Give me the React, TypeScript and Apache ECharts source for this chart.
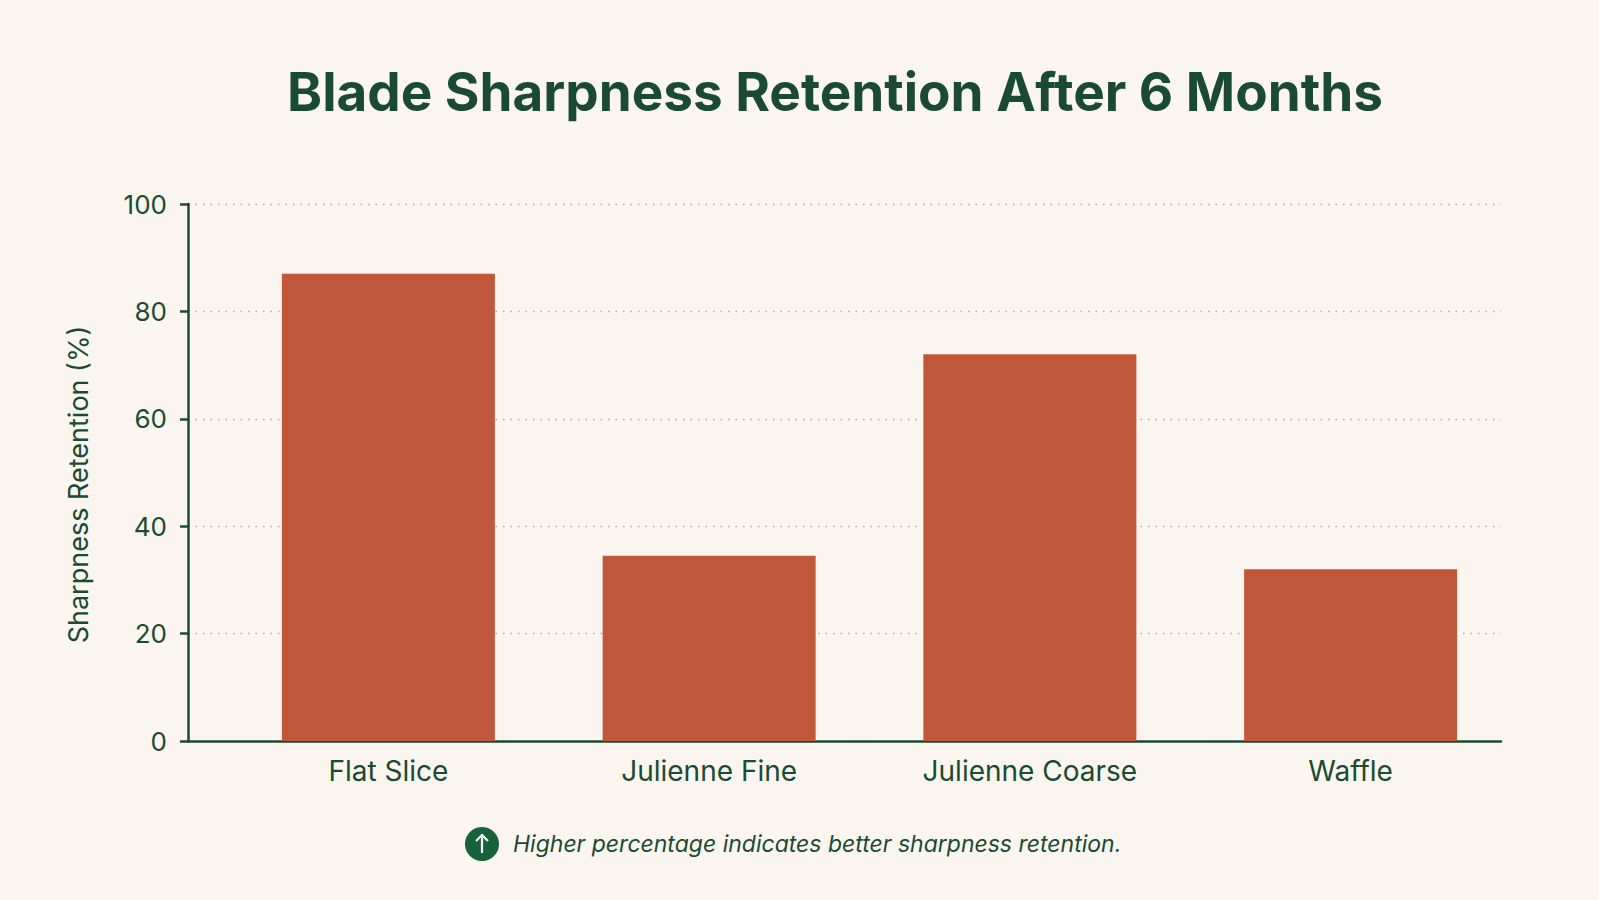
import { useEffect, useRef } from 'react'
import * as echarts from 'echarts'

const categories = ['Flat Slice', 'Julienne Fine', 'Julienne Coarse', 'Waffle']
const retention = [87, 34.5, 72, 32]
const yTicks = [0, 20, 40, 60, 80, 100]

const GREEN = '#1b4a32'
const BAR = '#c0573a'
const BG = '#faf6ef'
const FONT = 'Inter, "Noto Sans", sans-serif'

export default function App() {
  const ref = useRef<HTMLDivElement>(null)

  useEffect(() => {
    if (!ref.current) return
    const chart = echarts.init(ref.current, undefined, { renderer: 'svg' })

    chart.setOption({
      animation: false,
      backgroundColor: BG,
      textStyle: { fontFamily: FONT },
      grid: [
        // bars
        { left: 228, right: 88, top: 204, bottom: 159 },
        // axes frame
        { left: 188, right: 98, top: 204, bottom: 159 },
      ],
      xAxis: [
        {
          gridIndex: 0,
          type: 'category',
          data: categories,
          axisLine: { show: false },
          axisTick: { show: false },
          axisLabel: { color: GREEN, fontSize: 28, margin: 16, fontFamily: FONT },
        },
        {
          gridIndex: 1,
          type: 'value',
          min: 0,
          max: 1,
          axisLine: { show: true, lineStyle: { color: GREEN, width: 2.5 } },
          axisTick: { show: false },
          axisLabel: { show: false },
          splitLine: { show: false },
        },
      ],
      yAxis: [
        {
          gridIndex: 0,
          type: 'value',
          min: 0,
          max: 100,
          interval: 20,
          show: false,
          splitLine: { show: false },
        },
        {
          gridIndex: 1,
          type: 'value',
          min: yTicks[0],
          max: yTicks[yTicks.length - 1],
          interval: 20,
          name: 'Sharpness Retention (%)',
          nameLocation: 'middle',
          nameGap: 96,
          nameTextStyle: {
            color: GREEN,
            fontSize: 27,
            fontFamily: FONT,
            padding: [0, 24, 0, 0],
          },
          axisLine: { show: true, lineStyle: { color: GREEN, width: 2.5 } },
          axisTick: { show: true, length: 8, lineStyle: { color: GREEN, width: 2.5 } },
          axisLabel: { color: GREEN, fontSize: 26, margin: 21, fontFamily: FONT },
          splitLine: {
            show: true,
            lineStyle: { color: '#a9aaa2', width: 1.3, type: [1.5, 6] },
          },
        },
      ],
      series: [
        {
          type: 'bar',
          xAxisIndex: 0,
          yAxisIndex: 0,
          data: retention,
          barWidth: 213,
          itemStyle: { color: BAR },
          z: 3,
        },
      ],
      graphic: [
        {
          type: 'text',
          x: 835,
          y: 92,
          style: {
            text: 'Blade Sharpness Retention After 6 Months',
            fill: GREEN,
            font: `700 53px ${FONT}`,
            textAlign: 'center',
            textVerticalAlign: 'middle',
          },
        },
        {
          type: 'group',
          children: [
            {
              type: 'circle',
              shape: { cx: 482, cy: 844, r: 17 },
              style: { fill: '#17623a' },
            },
            {
              type: 'line',
              shape: { x1: 482, y1: 853, x2: 482, y2: 835 },
              style: { stroke: '#ffffff', lineWidth: 2.2 },
            },
            {
              type: 'polyline',
              shape: { points: [[476, 841], [482, 835], [488, 841]] },
              style: { stroke: '#ffffff', lineWidth: 2.2, fill: 'none' },
            },
            {
              type: 'text',
              x: 513,
              y: 844,
              style: {
                text: 'Higher percentage indicates better sharpness retention.',
                fill: GREEN,
                font: `italic 400 23px ${FONT}`,
                textVerticalAlign: 'middle',
              },
            },
          ],
        },
      ],
    })

    return () => chart.dispose()
  }, [])

  return <div ref={ref} style={{ position: 'fixed', left: 0, top: 0, width: 1599, height: 900 }} />
}
